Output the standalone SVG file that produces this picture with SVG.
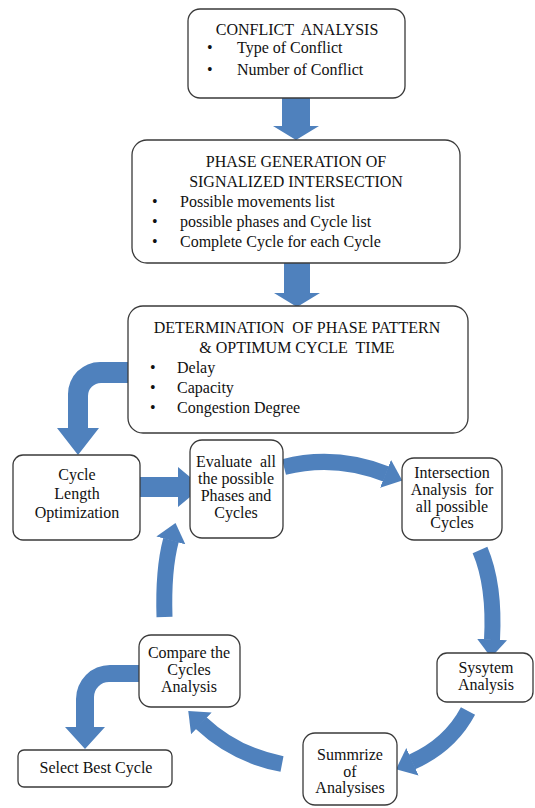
<svg xmlns="http://www.w3.org/2000/svg" width="535" height="808" viewBox="0 0 535 808">
  <style>
    .box { fill: #ffffff; stroke: #3a3a3a; stroke-width: 1.3; }
    .txt { font-family: "Liberation Serif", "DejaVu Serif", serif; font-size: 16px; fill: #111111; }
    .c { text-anchor: middle; }
    .solid { fill: #4F81BD; stroke: none; }
    .bend { fill: none; stroke: #4F81BD; stroke-width: 16; stroke-linecap: butt; marker-end: url(#head); }
  </style>
  <defs>
    <marker id="head" markerUnits="userSpaceOnUse" viewBox="0 0 18 30" markerWidth="18" markerHeight="30" refX="0.5" refY="15" orient="auto">
      <path d="M0,0 L18,15 L0,30 Z" fill="#4F81BD"/>
    </marker>
  </defs>
  <rect width="535" height="808" fill="#ffffff"/>

  <!-- connectors are drawn first so the boxes sit on top of the arrow tips -->
  <g id="connectors">
    <polygon class="solid" points="282,97 310,97 310,126 319,126 296,140 273,126 282,126"/>
    <polygon class="solid" points="284,262 310,262 310,293 320,293 297,307 274,293 284,293"/>
    <path class="solid" d="M129,362 H100 A32,32 0 0 0 68,394 V428 H57 L78,455 L99,428 H88 V396 A13,13 0 0 1 101,383 H129 Z"/>
    <polygon class="solid" points="139,477 178,477 178,467 202,487 178,507 178,497 139,497"/>
    <path class="bend" d="M284,467 Q335,454 386,474"/>
    <path class="bend" d="M480,550 Q495,585 492,640"/>
    <path class="bend" d="M468,711 Q450,745 412,762"/>
    <path class="bend" d="M282,764 Q235,755 201,723"/>
    <path class="bend" d="M164.5,617 Q163,570 171,540"/>
    <path class="solid" d="M140,665 H110 A34,34 0 0 0 76,699 V727 H65 L85,749 L105,727 H94 V697 A15,15 0 0 1 109,682 H140 Z"/>
  </g>

  <g id="conflict-analysis">
    <rect class="box" x="188" y="9" width="217" height="89" rx="12"/>
    <text class="txt c" x="297" y="35" xml:space="preserve">CONFLICT  ANALYSIS</text>
    <text class="txt" x="207" y="53">•</text>
    <text class="txt" x="237" y="53">Type of Conflict</text>
    <text class="txt" x="207" y="75">•</text>
    <text class="txt" x="237" y="75">Number of Conflict</text>
  </g>

  <g id="phase-generation">
    <rect class="box" x="132" y="140" width="328" height="123" rx="15"/>
    <text class="txt c" x="296" y="167">PHASE GENERATION OF</text>
    <text class="txt c" x="296" y="187">SIGNALIZED INTERSECTION</text>
    <text class="txt" x="152" y="207">•</text>
    <text class="txt" x="180" y="207">Possible movements list</text>
    <text class="txt" x="152" y="227">•</text>
    <text class="txt" x="180" y="227">possible phases and Cycle list</text>
    <text class="txt" x="152" y="247">•</text>
    <text class="txt" x="180" y="247">Complete Cycle for each Cycle</text>
  </g>

  <g id="phase-pattern">
    <rect class="box" x="128" y="306" width="340" height="127" rx="15"/>
    <text class="txt c" x="297" y="333" xml:space="preserve">DETERMINATION  OF PHASE PATTERN</text>
    <text class="txt c" x="297" y="353" xml:space="preserve">&amp; OPTIMUM CYCLE  TIME</text>
    <text class="txt" x="150" y="373">•</text>
    <text class="txt" x="177" y="373">Delay</text>
    <text class="txt" x="150" y="393">•</text>
    <text class="txt" x="177" y="393">Capacity</text>
    <text class="txt" x="150" y="413">•</text>
    <text class="txt" x="177" y="413">Congestion Degree</text>
  </g>

  <g id="cycle-length">
    <rect class="box" x="13" y="455" width="127" height="85" rx="10"/>
    <text class="txt c" x="77" y="480">Cycle</text>
    <text class="txt c" x="77" y="499">Length</text>
    <text class="txt c" x="77" y="518">Optimization</text>
  </g>

  <g id="evaluate">
    <rect class="box" x="190" y="440" width="93" height="98" rx="12"/>
    <text class="txt c" x="236" y="467" xml:space="preserve">Evaluate  all</text>
    <text class="txt c" x="236" y="484">the possible</text>
    <text class="txt c" x="236" y="501">Phases and</text>
    <text class="txt c" x="236" y="518">Cycles</text>
  </g>

  <g id="intersection-analysis">
    <rect class="box" x="402" y="458" width="100" height="82" rx="12"/>
    <text class="txt c" x="452" y="478">Intersection</text>
    <text class="txt c" x="452" y="495" xml:space="preserve">Analysis  for</text>
    <text class="txt c" x="452" y="512">all possible</text>
    <text class="txt c" x="452" y="528">Cycles</text>
  </g>

  <g id="system-analysis">
    <rect class="box" x="437" y="653" width="96" height="49" rx="10"/>
    <text class="txt c" x="486" y="673">Sysytem</text>
    <text class="txt c" x="486" y="690">Analysis</text>
  </g>

  <g id="summarize">
    <rect class="box" x="303" y="733" width="94" height="72" rx="12"/>
    <text class="txt c" x="350" y="760">Summrize</text>
    <text class="txt c" x="350" y="777">of</text>
    <text class="txt c" x="350" y="793">Analysises</text>
  </g>

  <g id="compare">
    <rect class="box" x="139" y="635" width="101" height="72" rx="12"/>
    <text class="txt c" x="189" y="658">Compare the</text>
    <text class="txt c" x="189" y="675">Cycles</text>
    <text class="txt c" x="189" y="692">Analysis</text>
  </g>

  <g id="select-best">
    <rect class="box" x="18" y="750" width="154" height="37" rx="6"/>
    <text class="txt c" x="96" y="773">Select Best Cycle</text>
  </g>
</svg>
